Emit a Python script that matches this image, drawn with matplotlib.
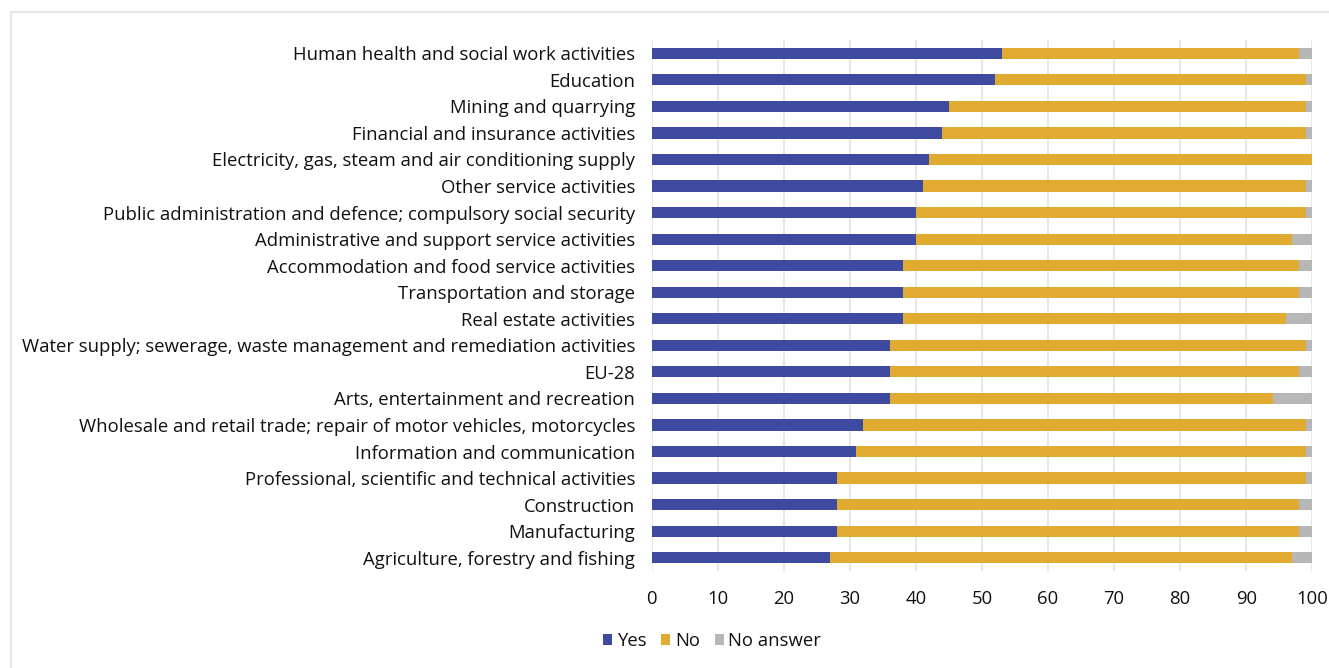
import matplotlib.pyplot as plt
from matplotlib.patches import Rectangle

# sectors, top to bottom as in the chart
sectors = [
    "Human health and social work activities",
    "Education",
    "Mining and quarrying",
    "Financial and insurance activities",
    "Electricity, gas, steam and air conditioning supply",
    "Other service activities",
    "Public administration and defence; compulsory social security",
    "Administrative and support service activities",
    "Accommodation and food service activities",
    "Transportation and storage",
    "Real estate activities",
    "Water supply; sewerage, waste management and remediation activities",
    "EU-28",
    "Arts, entertainment and recreation",
    "Wholesale and retail trade; repair of motor vehicles, motorcycles",
    "Information and communication",
    "Professional, scientific and technical activities",
    "Construction",
    "Manufacturing",
    "Agriculture, forestry and fishing",
]
yes = [53, 52, 45, 44, 42, 41, 40, 40, 38, 38, 38, 36, 36, 36, 32, 31, 28, 28, 28, 27]
no = [45, 47, 54, 55, 58, 58, 59, 57, 60, 60, 58, 63, 62, 58, 67, 68, 71, 70, 70, 70]
no_answer = [2, 1, 1, 1, 0, 1, 1, 3, 2, 2, 4, 1, 2, 6, 1, 1, 1, 2, 2, 3]

c_yes = '#3d4a9f'
c_no = '#e1ab32'
c_na = '#b7b7b7'

plt.rcParams['font.family'] = ['Open Sans', 'DejaVu Sans']

W, H = 1329, 668
fig = plt.figure(figsize=(W / 100, H / 100), dpi=100)
ax = fig.add_axes([651.7 / W, 1 - 571 / H, (1312.3 - 651.7) / W, (571 - 40) / H])

y = list(range(len(sectors)))
left_no = yes
left_na = [a + b for a, b in zip(yes, no)]
ax.barh(y, yes, height=0.42, color=c_yes, label='Yes', zorder=3)
ax.barh(y, no, left=left_no, height=0.42, color=c_no, label='No', zorder=3)
ax.barh(y, no_answer, left=left_na, height=0.42, color=c_na, label='No answer', zorder=3)

ax.set_xlim(0, 100)
ax.set_ylim(len(sectors) - 0.5, -0.5)
ax.set_xticks(range(0, 101, 10))
ax.set_yticks(y)
ax.set_yticklabels(sectors)
ax.tick_params(axis='y', length=0, pad=12, labelsize=13.3, colors='#111111')
ax.tick_params(axis='x', length=0, pad=14, labelsize=13.3, colors='#111111')
ax.grid(axis='x', color='#e3e3e3', linewidth=1.2, zorder=0)
for s in ax.spines.values():
    s.set_visible(False)

leg = fig.legend(loc='center', bbox_to_anchor=(712 / W, 1 - 641 / H), ncol=3,
                 frameon=False, fontsize=13.3, handlelength=0.5, handleheight=0.5,
                 handletextpad=0.25, columnspacing=0.8)
for t in leg.get_texts():
    t.set_color('#111111')

# light frame around the chart area
fig.add_artist(Rectangle((11 / W, -0.1), 1.2, 1.1 - 12 / H, transform=fig.transFigure,
                         fill=False, edgecolor='#e6e6e6', linewidth=1.5))

fig.savefig('out.png', dpi=100)
